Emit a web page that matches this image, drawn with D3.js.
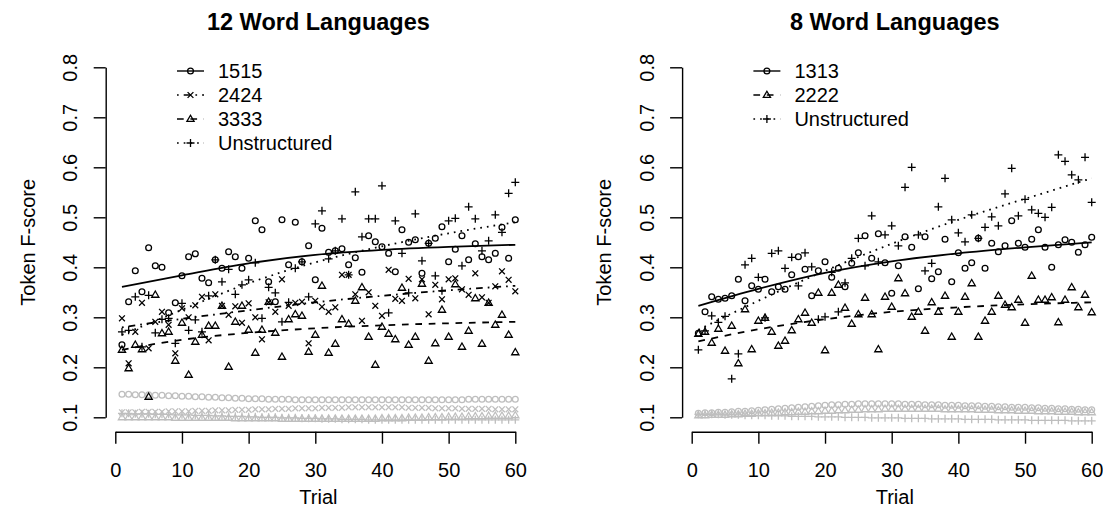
<!DOCTYPE html>
<html><head><meta charset="utf-8">
<script src="https://cdn.jsdelivr.net/npm/d3@7"></script>
<style>body{margin:0;background:#fff} svg{display:block} text{font-family:"Liberation Sans",Arial,sans-serif;fill:#000}</style>
</head><body><svg id="c" width="1103" height="520"></svg>
<script>
const trials = d3.range(1, 61);
const fitTrials = [1, 10, 20, 30, 40, 50, 60];
const yTicks = [0.1, 0.2, 0.3, 0.4, 0.5, 0.6, 0.7, 0.8];
const xTicks = [0, 10, 20, 30, 40, 50, 60];

// ---- 12 Word Languages ----
const left1515 = [0.245,0.331,0.393,0.351,0.439,0.403,0.400,0.309,0.329,0.383,
 0.421,0.427,0.378,0.369,0.415,0.398,0.431,0.421,0.398,0.418,
 0.493,0.475,0.371,0.331,0.495,0.405,0.490,0.411,0.443,0.375,
 0.478,0.430,0.433,0.437,0.405,0.419,0.390,0.463,0.451,0.441,
 0.428,0.391,0.475,0.450,0.455,0.388,0.448,0.458,0.481,0.411,
 0.436,0.463,0.415,0.447,0.421,0.415,0.428,0.480,0.418,0.495];
const left2424 = [0.298,0.208,0.271,0.329,0.238,0.291,0.311,0.285,0.228,0.318,
 0.300,0.324,0.341,0.254,0.346,0.323,0.305,0.322,0.289,0.328,
 0.300,0.256,0.330,0.311,0.376,0.323,0.329,0.331,0.248,0.333,
 0.321,0.311,0.320,0.385,0.385,0.346,0.293,0.350,0.323,0.303,
 0.395,0.337,0.333,0.377,0.338,0.376,0.306,0.365,0.336,0.376,
 0.378,0.356,0.345,0.388,0.340,0.329,0.362,0.392,0.375,0.352];
const left3333 = [0.235,0.198,0.245,0.236,0.141,0.345,0.268,0.271,0.213,0.289,
 0.185,0.251,0.265,0.283,0.283,0.323,0.201,0.291,0.323,0.275,
 0.229,0.275,0.331,0.269,0.221,0.296,0.306,0.303,0.231,0.265,
 0.363,0.229,0.247,0.296,0.287,0.333,0.360,0.261,0.205,0.281,
 0.267,0.256,0.359,0.245,0.261,0.367,0.213,0.248,0.315,0.261,
 0.366,0.241,0.273,0.338,0.247,0.329,0.285,0.305,0.265,0.230];
const leftUnstr = [0.271,0.274,0.341,0.241,0.344,0.269,0.296,0.298,0.248,0.328,
 0.274,0.295,0.271,0.343,0.415,0.371,0.396,0.346,0.365,0.375,
 0.409,0.298,0.360,0.349,0.291,0.330,0.398,0.411,0.341,0.487,
 0.513,0.417,0.433,0.497,0.385,0.551,0.461,0.497,0.497,0.563,
 0.309,0.493,0.428,0.349,0.507,0.413,0.448,0.383,0.353,0.493,
 0.498,0.403,0.521,0.497,0.433,0.453,0.505,0.470,0.548,0.570];
const left1515Base = [0.146,0.146,0.145,0.145,0.145,0.144,0.144,0.143,0.143,0.142,
 0.142,0.141,0.141,0.140,0.140,0.139,0.139,0.138,0.138,0.137,
 0.137,0.137,0.136,0.136,0.136,0.136,0.135,0.135,0.135,0.135,
 0.135,0.135,0.135,0.135,0.135,0.135,0.135,0.135,0.135,0.135,
 0.135,0.135,0.135,0.135,0.135,0.135,0.135,0.135,0.135,0.135,
 0.135,0.135,0.136,0.136,0.136,0.136,0.136,0.136,0.136,0.136];
const left2424Base = [0.110,0.110,0.110,0.111,0.111,0.111,0.111,0.112,0.112,0.112,
 0.112,0.113,0.113,0.113,0.114,0.114,0.114,0.115,0.115,0.115,
 0.116,0.116,0.116,0.117,0.117,0.117,0.118,0.118,0.118,0.118,
 0.119,0.119,0.119,0.119,0.120,0.120,0.120,0.120,0.120,0.120,
 0.120,0.120,0.120,0.119,0.119,0.119,0.119,0.118,0.118,0.118,
 0.118,0.117,0.117,0.117,0.117,0.117,0.116,0.116,0.116,0.116];
const left3333Base = [0.100,0.100,0.100,0.100,0.100,0.100,0.100,0.100,0.099,0.099,
 0.099,0.099,0.099,0.099,0.099,0.099,0.099,0.098,0.098,0.098,
 0.098,0.098,0.098,0.098,0.097,0.097,0.097,0.097,0.097,0.097,
 0.097,0.097,0.097,0.097,0.097,0.097,0.097,0.097,0.097,0.098,
 0.098,0.098,0.098,0.099,0.099,0.099,0.100,0.100,0.100,0.101,
 0.101,0.101,0.102,0.102,0.102,0.103,0.103,0.103,0.103,0.104];
const leftUnstrBase = [0.108,0.108,0.107,0.107,0.107,0.106,0.106,0.106,0.105,0.105,
 0.105,0.104,0.104,0.104,0.103,0.103,0.102,0.102,0.102,0.101,
 0.101,0.100,0.100,0.100,0.099,0.099,0.099,0.098,0.098,0.098,
 0.097,0.097,0.097,0.096,0.096,0.096,0.096,0.095,0.095,0.095,
 0.095,0.095,0.095,0.095,0.095,0.095,0.095,0.095,0.095,0.095,
 0.095,0.095,0.095,0.095,0.095,0.095,0.095,0.095,0.095,0.095];
const left1515Fit = [0.361,0.384,0.408,0.425,0.435,0.441,0.445];
const left2424Fit = [0.280,0.297,0.314,0.330,0.343,0.354,0.363];
const left3333Fit = [0.235,0.255,0.269,0.278,0.284,0.288,0.291];
const leftUnstrFit = [0.265,0.315,0.368,0.410,0.442,0.468,0.490];

// ---- 8 Word Languages ----
const right1313 = [0.268,0.311,0.341,0.336,0.338,0.343,0.376,0.333,0.363,0.356,
 0.376,0.351,0.361,0.356,0.385,0.421,0.396,0.343,0.393,0.411,
 0.380,0.398,0.361,0.408,0.429,0.463,0.418,0.467,0.409,0.348,
 0.403,0.461,0.440,0.357,0.461,0.377,0.391,0.456,0.371,0.429,
 0.398,0.409,0.458,0.398,0.448,0.431,0.443,0.493,0.448,0.440,
 0.456,0.475,0.440,0.400,0.445,0.455,0.450,0.430,0.445,0.460];
const right2222 = [0.267,0.271,0.249,0.277,0.233,0.283,0.208,0.316,0.236,0.293,
 0.299,0.271,0.243,0.253,0.274,0.296,0.309,0.289,0.349,0.234,
 0.349,0.365,0.319,0.287,0.306,0.339,0.306,0.236,0.341,0.321,
 0.378,0.348,0.301,0.311,0.273,0.330,0.311,0.343,0.261,0.311,
 0.341,0.368,0.261,0.293,0.311,0.343,0.325,0.320,0.335,0.289,
 0.383,0.335,0.335,0.340,0.290,0.335,0.360,0.320,0.345,0.310];
const rightUnstr = [0.235,0.273,0.303,0.290,0.302,0.177,0.227,0.405,0.418,0.380,
 0.299,0.428,0.433,0.398,0.420,0.363,0.429,0.401,0.296,0.301,
 0.390,0.311,0.369,0.418,0.458,0.403,0.503,0.411,0.465,0.483,
 0.443,0.560,0.600,0.465,0.393,0.408,0.521,0.578,0.495,0.469,
 0.451,0.505,0.458,0.480,0.501,0.483,0.547,0.598,0.503,0.536,
 0.515,0.508,0.500,0.520,0.625,0.612,0.585,0.575,0.620,0.530];
const right1313Base = [0.108,0.109,0.109,0.110,0.110,0.111,0.112,0.112,0.113,0.114,
 0.115,0.116,0.117,0.118,0.119,0.120,0.121,0.122,0.123,0.124,
 0.125,0.125,0.126,0.126,0.127,0.127,0.127,0.127,0.127,0.127,
 0.127,0.126,0.126,0.126,0.125,0.125,0.125,0.124,0.124,0.124,
 0.123,0.123,0.123,0.122,0.122,0.121,0.121,0.120,0.120,0.120,
 0.119,0.119,0.118,0.118,0.117,0.117,0.116,0.116,0.115,0.115];
const right2222Base = [0.104,0.104,0.105,0.105,0.105,0.106,0.106,0.107,0.107,0.108,
 0.108,0.109,0.109,0.110,0.110,0.111,0.111,0.112,0.112,0.113,
 0.113,0.114,0.114,0.115,0.115,0.116,0.116,0.116,0.117,0.117,
 0.117,0.117,0.117,0.117,0.117,0.117,0.117,0.116,0.116,0.116,
 0.116,0.116,0.115,0.115,0.115,0.114,0.114,0.114,0.113,0.113,
 0.113,0.112,0.112,0.112,0.111,0.111,0.111,0.110,0.110,0.110];
const rightUnstrBase = [0.106,0.106,0.106,0.106,0.105,0.105,0.105,0.104,0.104,0.104,
 0.104,0.103,0.103,0.103,0.102,0.102,0.102,0.102,0.101,0.101,
 0.101,0.101,0.100,0.100,0.100,0.100,0.099,0.099,0.099,0.099,
 0.099,0.098,0.098,0.098,0.098,0.097,0.097,0.097,0.097,0.097,
 0.096,0.096,0.096,0.096,0.096,0.095,0.095,0.095,0.095,0.095,
 0.094,0.094,0.094,0.094,0.094,0.094,0.093,0.093,0.093,0.093];
const right1313Fit = [0.323,0.357,0.389,0.412,0.428,0.440,0.450];
const right2222Fit = [0.252,0.276,0.296,0.311,0.320,0.326,0.330];
const rightUnstrFit = [0.275,0.333,0.393,0.447,0.495,0.537,0.578];

const DASH = {solid: null, dotdash: "1.7,5,6.7,5", dashed: "6.7,6.7", dotted: "1.7,5"};

const panels = [
  {title: "12 Word Languages", dx: 0, series: [
    {name: "1515", values: left1515, base: left1515Base, fit: left1515Fit, shape: "circle", lty: "solid"},
    {name: "2424", values: left2424, base: left2424Base, fit: left2424Fit, shape: "cross", lty: "dotdash"},
    {name: "3333", values: left3333, base: left3333Base, fit: left3333Fit, shape: "triangle", lty: "dashed"},
    {name: "Unstructured", values: leftUnstr, base: leftUnstrBase, fit: leftUnstrFit, shape: "plus", lty: "dotted"}]},
  {title: "8 Word Languages", dx: 576.4, series: [
    {name: "1313", values: right1313, base: right1313Base, fit: right1313Fit, shape: "circle", lty: "solid"},
    {name: "2222", values: right2222, base: right2222Base, fit: right2222Fit, shape: "triangle", lty: "dashed"},
    {name: "Unstructured", values: rightUnstr, base: rightUnstrBase, fit: rightUnstrFit, shape: "plus", lty: "dotted"}]}
];

const svg = d3.select("#c");

function marker(g, shape, cx, cy, color) {
  const sw = 1.3;
  if (shape === "circle") {
    g.append("circle").attr("cx", cx).attr("cy", cy).attr("r", 2.9)
      .attr("fill", "none").attr("stroke", color).attr("stroke-width", sw);
  } else if (shape === "triangle") {
    const s = 3.8;
    g.append("path").attr("d", `M${cx},${cy - s}L${cx + s * 0.95},${cy + s * 0.65}L${cx - s * 0.95},${cy + s * 0.65}Z`)
      .attr("fill", "none").attr("stroke", color).attr("stroke-width", sw);
  } else if (shape === "cross") {
    const s = 2.9;
    g.append("path").attr("d", `M${cx - s},${cy - s}L${cx + s},${cy + s}M${cx - s},${cy + s}L${cx + s},${cy - s}`)
      .attr("stroke", color).attr("stroke-width", sw);
  } else {
    const s = 4.0;
    g.append("path").attr("d", `M${cx - s},${cy}L${cx + s},${cy}M${cx},${cy - s}L${cx},${cy + s}`)
      .attr("stroke", color).attr("stroke-width", sw);
  }
}

panels.forEach(p => {
  const g = svg.append("g").attr("transform", `translate(${p.dx},0)`);
  const x = d3.scaleLinear().domain([0, 60]).range([115.3, 515.3]);
  const y = d3.scaleLinear().domain([0.1, 0.8]).range([417.3, 67.3]);
  const left = 105.7, bottom = 431.7;

  // axes
  const ya = g.append("g").attr("transform", `translate(${left},0)`)
    .call(d3.axisLeft(y).tickValues(yTicks).tickFormat(d3.format(".1f")).tickSize(12).tickSizeOuter(0));
  ya.selectAll("text").attr("transform", "rotate(-90)").attr("x", 0).attr("y", -28.5).attr("dy", 0)
    .attr("text-anchor", "middle").style("font-size", "20px").style("font-family", "Liberation Sans, Arial, sans-serif");
  const xa = g.append("g").attr("transform", `translate(0,${bottom})`)
    .call(d3.axisBottom(x).tickValues(xTicks).tickSize(12).tickSizeOuter(0));
  xa.selectAll("text").attr("y", 45).attr("dy", 0).style("font-size", "20px").style("font-family", "Liberation Sans, Arial, sans-serif");
  g.selectAll(".domain, .tick line").attr("stroke", "#000").attr("stroke-width", 1.4);

  // titles
  g.append("text").attr("x", 318.4).attr("y", 30).attr("text-anchor", "middle")
    .style("font-size", "23.5px").style("font-weight", "bold").text(p.title);
  g.append("text").attr("x", 318.4).attr("y", 504).attr("text-anchor", "middle")
    .style("font-size", "20px").text("Trial");
  g.append("text").attr("transform", `translate(34.5,242.3) rotate(-90)`).attr("text-anchor", "middle")
    .style("font-size", "20px").text("Token F-score");

  // gray baselines
  p.series.forEach(s => {
    const gg = g.append("g");
    s.base.forEach((v, i) => marker(gg, s.shape, x(trials[i]), y(v), "#bebebe"));
  });
  // black points
  p.series.forEach(s => {
    const gg = g.append("g");
    s.values.forEach((v, i) => marker(gg, s.shape, x(trials[i]), y(v), "#000"));
  });
  // fitted lines
  const line = d3.line().x(d => x(d[0])).y(d => y(d[1])).curve(d3.curveMonotoneX);
  p.series.forEach(s => {
    g.append("path").datum(fitTrials.map((t, i) => [t, s.fit[i]]))
      .attr("d", line).attr("fill", "none").attr("stroke", "#000").attr("stroke-width", 1.8)
      .attr("stroke-dasharray", DASH[s.lty]);
  });

  // legend
  const lg = g.append("g");
  p.series.forEach((s, i) => {
    const ly = 71 + i * 24;
    lg.append("line").attr("x1", 177).attr("x2", 204).attr("y1", ly).attr("y2", ly)
      .attr("stroke", "#000").attr("stroke-width", 1.4).attr("stroke-dasharray", DASH[s.lty]);
    marker(lg, s.shape, 190.5, ly, "#000");
    lg.append("text").attr("x", 218).attr("y", ly).attr("dy", "0.35em")
      .style("font-size", "20px").text(s.name);
  });
});
</script></body></html>
